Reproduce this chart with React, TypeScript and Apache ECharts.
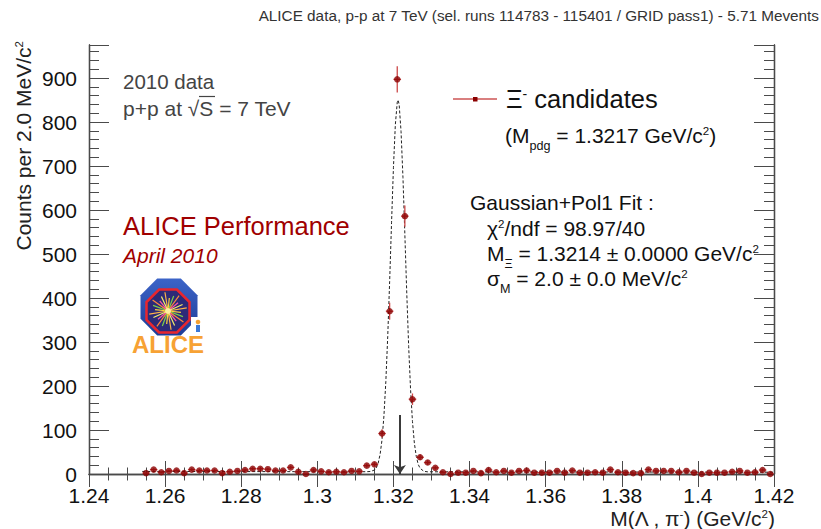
import { useEffect, useRef } from 'react';
import * as echarts from 'echarts';

// ---- data ----
const binX = [
  1.255, 1.257, 1.259, 1.261, 1.263, 1.265, 1.267, 1.269, 1.271, 1.273,
  1.275, 1.277, 1.279, 1.281, 1.283, 1.285, 1.287, 1.289, 1.291, 1.293,
  1.295, 1.297, 1.299, 1.301, 1.303, 1.305, 1.307, 1.309, 1.311, 1.313,
  1.315, 1.317, 1.319, 1.321, 1.323, 1.325, 1.327, 1.329, 1.331, 1.333,
  1.335, 1.337, 1.339, 1.341, 1.343, 1.345, 1.347, 1.349, 1.351, 1.353,
  1.355, 1.357, 1.359, 1.361, 1.363, 1.365, 1.367, 1.369, 1.371, 1.373,
  1.375, 1.377, 1.379, 1.381, 1.383, 1.385, 1.387, 1.389, 1.391, 1.393,
  1.395, 1.397, 1.399, 1.401, 1.403, 1.405, 1.407, 1.409, 1.411, 1.413,
  1.415, 1.417, 1.419,
];
const counts = [
  2, 10, 4, 7, 8, 2, 10, 8, 8, 8,
  2, 5, 7, 9, 12, 12, 11, 8, 8, 15,
  5, 0, 9, 6, 4, 5, 4, 7, 6, 19,
  22, 92, 370, 897, 586, 170, 38, 26, 14, 4,
  0, 3, 3, 7, 2, 9, 4, 7, 3, 7,
  8, 3, 3, 3, 7, 3, 8, 3, 3, 4,
  3, 10, 4, 3, 2, 2, 10, 7, 7, 7,
  4, 7, 3, 0, 3, 3, 3, 5, 7, 3,
  4, 9, 0,
];
const fitX = [
  1.254, 1.28, 1.3, 1.31, 1.313, 1.314, 1.315, 1.3155, 1.316, 1.3165,
  1.317, 1.3175, 1.318, 1.3185, 1.319, 1.3195, 1.32, 1.3205, 1.321, 1.3212,
  1.3215, 1.322, 1.3225, 1.323, 1.3235, 1.324, 1.3245, 1.325, 1.3255, 1.326,
  1.3265, 1.327, 1.328, 1.329, 1.33, 1.36, 1.39, 1.42,
];
const fitY = [
  5.8, 5.5, 5.3, 5.2, 5.2, 5.8, 9, 14, 25, 45,
  78, 132, 210, 313, 437, 571, 697, 794, 845, 850,
  840, 778, 674, 544, 411, 290, 192, 119, 70, 40,
  22, 13, 6, 5, 5, 4.7, 4.4, 4.1,
];
const pdgMass = 1.3217;
const arrowTop = 134;
const binHalfWidth = 0.001;
const xMin = 1.24;
const xMax = 1.42;
const xStep = 0.02;
const yMin = 0;
const yMax = 975;
const yStep = 100;
const yMinorStep = 20;

const FF = "'Liberation Sans', Arial, Helvetica, sans-serif";

function rich(size: number, color: string, lh = 1.2) {
  const sp = size * 0.55;
  const sb = size * 0.6;
  const up = size * 0.2;
  const down = size * 0.5;
  return {
    t: { fontSize: size, fontFamily: FF, fill: color, color, lineHeight: size * lh },
    sup: { fontSize: sp, fontFamily: FF, fill: color, color, lineHeight: sp, padding: [0, 0, 2 * up, 0] },
    sub: { fontSize: sb, fontFamily: FF, fill: color, color, lineHeight: sb, padding: [2 * down, 0, 0, 0] },
  };
}

function txt(x: number, y: number, text: string, size: number, color: string, opts: any = {}) {
  return {
    type: 'text',
    x,
    y,
    rotation: opts.rotation || 0,
    z: 100,
    style: {
      text,
      rich: rich(size, color, opts.lh),
      fontSize: size,
      fontFamily: FF,
      fontStyle: opts.fontStyle || 'normal',
      fontWeight: opts.fontWeight || 'normal',
      fill: color,
      align: opts.align || 'left',
      textAlign: opts.align || 'left',
      verticalAlign: 'middle',
      textVerticalAlign: 'middle',
    },
  };
}

function octagon(cx: number, cy: number, h: number) {
  const r = h / Math.cos(Math.PI / 8);
  const pts: number[][] = [];
  for (let k = 0; k < 8; k++) {
    const a = Math.PI / 8 + (k * Math.PI) / 4;
    pts.push([cx + r * Math.cos(a), cy + r * Math.sin(a)]);
  }
  return pts;
}

function logo() {
  const cx = 168;
  const cy = 311;
  const rayColors = ['#ffd23c', '#7ad04a', '#ff8a3c', '#ff5aa0', '#f5f06a', '#ffb347'];
  const rays: any[] = [];
  for (let k = 0; k < 24; k++) {
    const a = (k * Math.PI * 2) / 24 + 0.1;
    const len = 13 + (k % 3) * 3;
    rays.push({
      type: 'line',
      shape: { x1: cx, y1: cy, x2: cx + len * Math.cos(a), y2: cy + len * Math.sin(a) },
      style: { stroke: rayColors[k % rayColors.length], lineWidth: 1.2 },
    });
  }
  return {
    type: 'group',
    z: 50,
    children: [
      {
        type: 'polygon',
        shape: { points: octagon(169, 307, 28.5) },
        style: {
          fill: new echarts.graphic.LinearGradient(0, 0, 0, 1, [
            { offset: 0, color: '#3c64c8' },
            { offset: 1, color: '#1d3c96' },
          ]),
        },
      },
      { type: 'rect', shape: { x: 191, y: 317, width: 12, height: 20 }, style: { fill: '#ffffff' } },
      {
        type: 'polygon',
        shape: { points: octagon(cx, cy, 21.5) },
        style: { fill: '#2c2a78', stroke: '#e8262e', lineWidth: 2.5 },
      },
      ...rays,
      { type: 'circle', shape: { cx, cy, r: 3 }, style: { fill: '#fff0a0' } },
      { type: 'circle', shape: { cx: 198, cy: 322, r: 2.3 }, style: { fill: '#f5a030' } },
      { type: 'rect', shape: { x: 196, y: 325, width: 4, height: 7 }, style: { fill: '#3a78d8' } },
      txt(168, 344, 'ALICE', 24, '#f7a234', { align: 'center', fontWeight: 'bold' }),
    ],
  };
}

export default function App() {
  const ref = useRef<HTMLDivElement>(null);
  useEffect(() => {
    const chart = echarts.init(ref.current!, null, { renderer: 'svg' });
    const axisColor = '#4a4a4a';
    const points = binX.map((x, i) => [x, counts[i], Math.sqrt(counts[i])]);
    const fit = fitX.map((x, i) => [x, fitY[i]]);

    const xAxisBase = (pos: 'bottom' | 'top', labels: boolean) => ({
      type: 'value',
      position: pos,
      min: xMin,
      max: xMax,
      interval: xStep,
      axisLine: { show: true, lineStyle: { color: axisColor, width: 1.3 } },
      axisTick: { show: true, inside: true, length: 13, lineStyle: { color: axisColor, width: 1 } },
      minorTick: { show: true, splitNumber: 4, length: 6.5, lineStyle: { color: axisColor, width: 1 } },
      splitLine: { show: false },
      minorSplitLine: { show: false },
      axisLabel: {
        show: labels,
        fontSize: 21,
        lineHeight: 21,
        fontFamily: FF,
        color: '#111',
        margin: 11,
        formatter: (v: number) => String(+v.toFixed(2)),
      },
    });
    const yAxisBase = (pos: 'left' | 'right', major: boolean, labels: boolean) => ({
      type: 'value',
      position: pos,
      min: yMin,
      max: yMax,
      interval: major ? yStep : yMinorStep,
      axisLine: { show: true, lineStyle: { color: axisColor, width: 1.3 } },
      axisTick: { show: true, inside: true, length: major ? 20 : 10, lineStyle: { color: axisColor, width: 1 } },
      splitLine: { show: false },
      axisLabel: {
        show: labels,
        fontSize: 21,
        lineHeight: 21,
        fontFamily: FF,
        color: '#111',
        margin: 12,
        formatter: (v: number) => (v % yStep === 0 ? String(v) : ''),
      },
    });

    const option: any = {
      animation: false,
      backgroundColor: '#ffffff',
      grid: { left: 89, right: 47, top: 45, bottom: 55, containLabel: false },
      xAxis: [xAxisBase('bottom', true), xAxisBase('top', false)],
      yAxis: [
        yAxisBase('left', true, true),
        yAxisBase('left', false, false),
        yAxisBase('right', true, false),
        yAxisBase('right', false, false),
      ],
      series: [
        {
          type: 'line',
          data: fit,
          xAxisIndex: 0,
          yAxisIndex: 0,
          symbol: 'none',
          smooth: false,
          clip: true,
          z: 3,
          lineStyle: { color: '#222', width: 1, type: [3, 2] },
          markLine: {
            silent: true,
            symbol: ['none', 'arrow'],
            symbolSize: 9,
            label: { show: false },
            lineStyle: { color: '#3a3a3a', width: 2, type: 'solid' },
            data: [[{ coord: [pdgMass, arrowTop] }, { coord: [pdgMass, 0] }]],
          },
        },
        {
          type: 'custom',
          data: points,
          xAxisIndex: 0,
          yAxisIndex: 0,
          clip: true,
          z: 4,
          encode: { x: 0, y: 1 },
          renderItem: (params: any, api: any) => {
            const x = api.value(0);
            const y = api.value(1);
            const e = api.value(2);
            const c = api.coord([x, y]);
            const t = api.coord([x, y + e]);
            const b = api.coord([x, Math.max(0, y - e)]);
            const l = api.coord([x - binHalfWidth, y]);
            const r = api.coord([x + binHalfWidth, y]);
            const st = { stroke: '#cc4848', lineWidth: 1.3 };
            return {
              type: 'group',
              children: [
                { type: 'line', shape: { x1: c[0], y1: t[1], x2: c[0], y2: b[1] }, style: st },
                { type: 'line', shape: { x1: l[0], y1: c[1], x2: r[0], y2: c[1] }, style: st },
              ],
            };
          },
        },
        {
          type: 'scatter',
          data: points.map((p) => [p[0], p[1]]),
          xAxisIndex: 0,
          yAxisIndex: 0,
          symbol: 'circle',
          symbolSize: 6.5,
          z: 5,
          itemStyle: { color: '#8b0000' },
        },
      ],
      graphic: [
        txt(819, 15, 'ALICE data, p-p at 7 TeV (sel. runs 114783 - 115401 / GRID pass1) - 5.71 Mevents', 15.3, '#333', { align: 'right' }),
        txt(23, 41, '{t|Counts per 2.0 MeV/c}{sup|2}', 21, '#222', { align: 'right', rotation: Math.PI / 2 }),
        txt(775, 518, '{t|M(Λ , π}{sup|-}{t|) (GeV/c}{sup|2}{t|)}', 21, '#222', { align: 'right', lh: 1.0 }),
        txt(123, 81, '2010 data', 20.5, '#444'),
        txt(123, 108, 'p+p at √S = 7 TeV', 21, '#444'),
        { type: 'line', z: 100, shape: { x1: 199, y1: 96.5, x2: 215, y2: 96.5 }, style: { stroke: '#444', lineWidth: 1.2 } },
        txt(123, 226, 'ALICE Performance', 25.5, '#a00000'),
        txt(123, 255, 'April 2010', 21, '#a00000', { fontStyle: 'italic' }),
        logo(),
        { type: 'line', z: 100, shape: { x1: 453, y1: 99, x2: 497, y2: 99 }, style: { stroke: '#cc5555', lineWidth: 1.5 } },
        { type: 'rect', z: 101, shape: { x: 473, y: 97, width: 4.5, height: 4.5 }, style: { fill: '#8b0000' } },
        txt(506, 99, '{t|Ξ}{sup|-} {t|candidates}', 25.5, '#111'),
        txt(505, 135, '{t|(M}{sub|pdg}{t| = 1.3217 GeV/c}{sup|2}{t|)}', 21, '#111'),
        txt(470, 202, 'Gaussian+Pol1 Fit :', 21, '#111'),
        txt(487, 228, '{t|χ}{sup|2}{t|/ndf = 98.97/40}', 21, '#111'),
        txt(487, 253, '{t|M}{sub|Ξ}{t| = 1.3214 ± 0.0000 GeV/c}{sup|2}', 21, '#111'),
        txt(487, 278, '{t|σ}{sub|M}{t| = 2.0 ± 0.0 MeV/c}{sup|2}', 21, '#111'),
      ],
    };
    chart.setOption(option);
    return () => chart.dispose();
  }, []);
  return <div ref={ref} style={{ position: 'fixed', left: 0, top: 0, width: 821, height: 529 }} />;
}
